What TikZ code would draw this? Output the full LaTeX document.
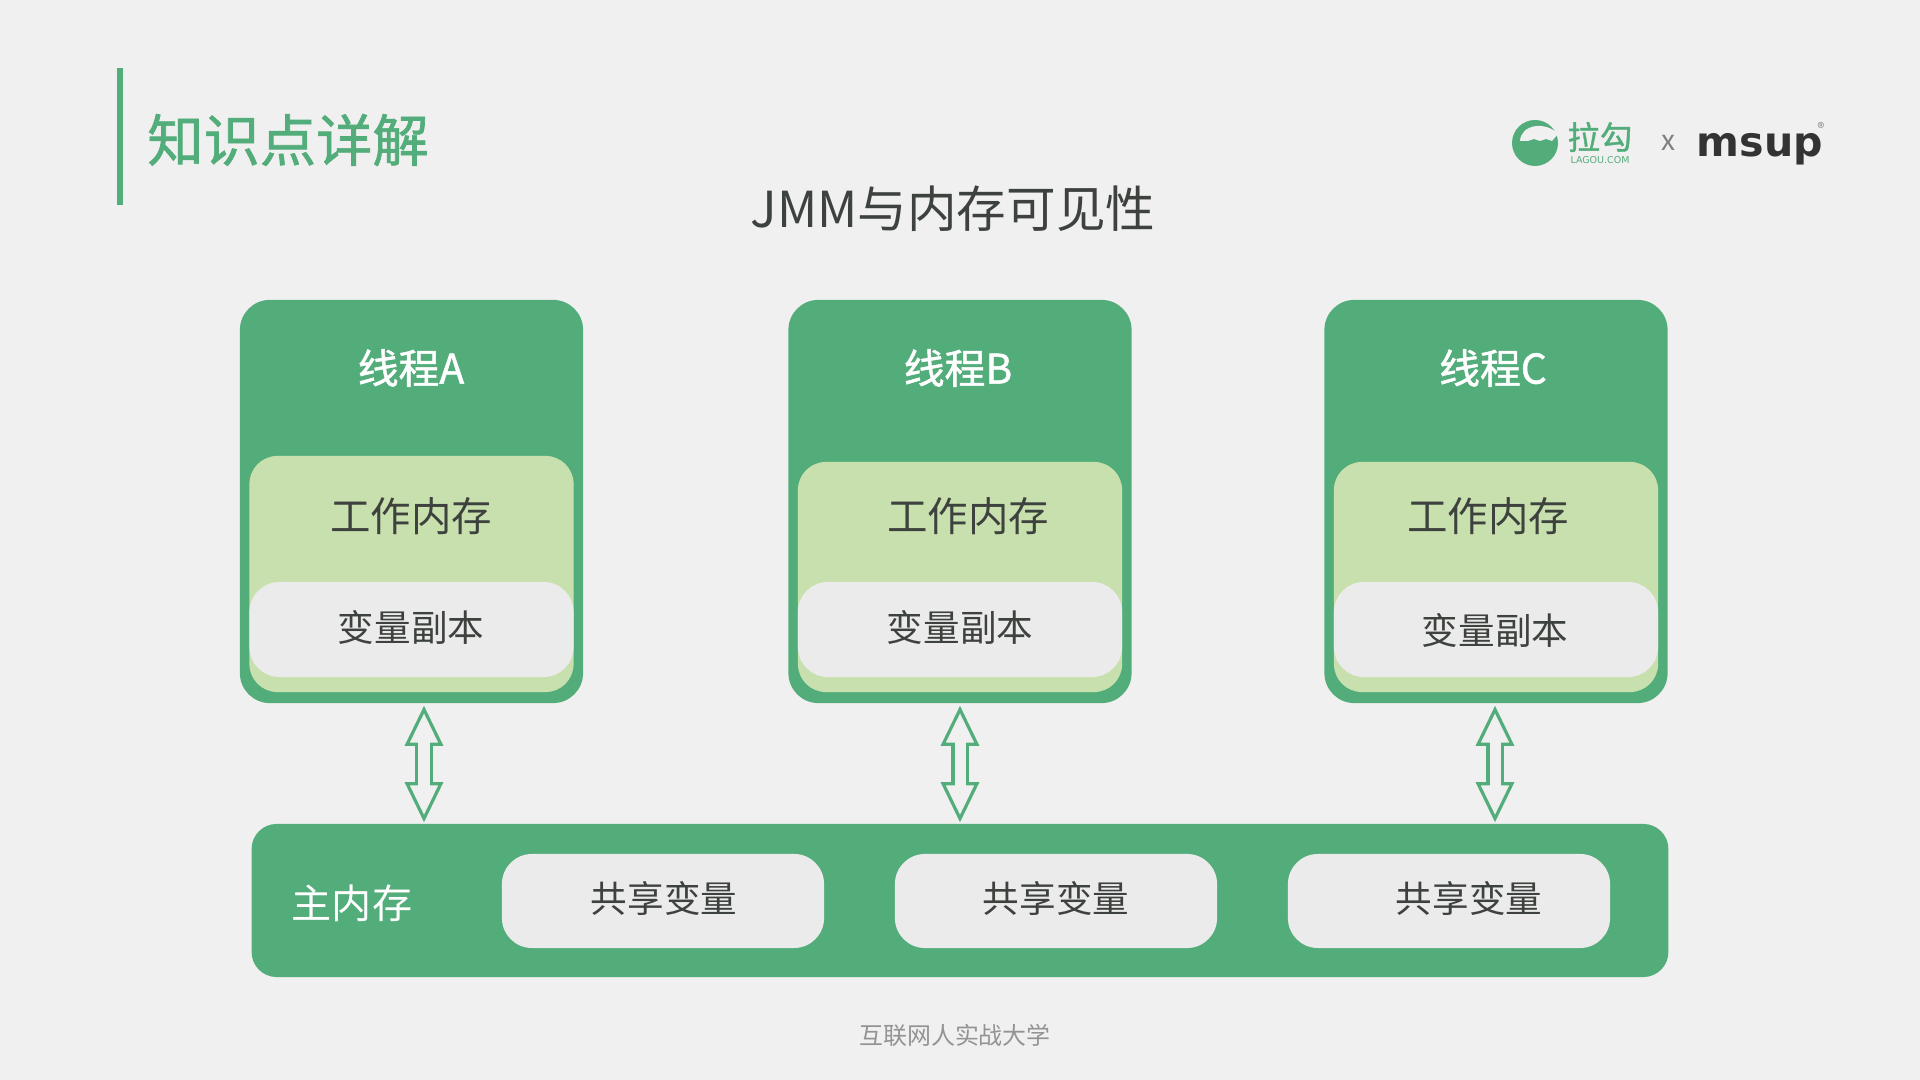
\documentclass[tikz,border=0pt]{standalone}
\usepackage{fontspec}
\setmainfont{Noto Sans CJK SC}
\newfontfamily\cjkmedium[FakeBold=1.2]{Noto Sans CJK SC}
\newfontfamily\latinbold{DejaVu Sans}
\usepackage{xcolor}
\usetikzlibrary{arrows.meta, positioning, calc}
\definecolor{pagegray}{RGB}{240, 240, 240}
\definecolor{lagougreen}{RGB}{83, 173, 122}
\definecolor{workgreen}{RGB}{200, 224, 174}
\definecolor{copygray}{RGB}{235, 235, 235}
\definecolor{inkgray}{RGB}{62, 66, 62}
\tikzset{
    threadbox/.style={draw=none, fill=lagougreen, rounded corners=0.3cm, inner sep=0pt,
        minimum width=3.43cm, minimum height=4.03cm},
    workbox/.style={fill=workgreen, rounded corners=0.28cm, inner sep=0pt,
        minimum width=3.24cm},
    copybox/.style={fill=copygray, rounded corners=0.3cm, inner sep=0pt,
        minimum width=3.24cm, minimum height=0.95cm},
    sharebox/.style={fill=copygray, rounded corners=0.3cm, inner sep=0pt,
        minimum width=3.22cm, minimum height=0.94cm},
    threadlabel/.style={white, font=\cjkmedium\fontsize{11.6pt}{14pt}\selectfont},
    worklabel/.style={inkgray, font=\fontsize{11.5pt}{14pt}\selectfont},
    copylabel/.style={inkgray, font=\fontsize{10.4pt}{12pt}\selectfont},
    syncarrow/.style={line width=0.032cm, draw=lagougreen, double=pagegray, double distance=0.11cm,
        {Triangle[open, fill=pagegray, length=0.40cm, width=0.38cm]}-{Triangle[open, fill=pagegray, length=0.40cm, width=0.38cm]},
        shorten <=0.02cm, shorten >=0.01cm},
    synccover/.style={draw=pagegray, line width=0.11cm, shorten <=0.38cm, shorten >=0.37cm}
}
\begin{document}
\begin{tikzpicture}[x=0.01cm, y=-0.01cm]
    % Page background
    \fill[pagegray] (0,0) rectangle (1920,1080);
    \useasboundingbox (0,0) rectangle (1920,1080);
    % Heading
    \fill[lagougreen] (117,68) rectangle (123,205);
    \node[lagougreen, font=\cjkmedium\fontsize{16pt}{18pt}\selectfont] (heading) at (288,140) {知识点详解};
    \node[inkgray, font=\fontsize{14.1pt}{16pt}\selectfont] (title) at (953,209) {JMM与内存可见性};
    % Logos
    \fill[lagougreen] (1535,143) circle (23);
    \fill[pagegray] (1520,141) .. controls (1521,124) and (1546,121) .. (1558,134)
        -- (1552,141) -- (1546,139) -- (1540,141) -- (1534,139) -- (1528,141) -- cycle;
    \node[lagougreen, font=\cjkmedium\fontsize{9.2pt}{11pt}\selectfont] (lagou) at (1600,137) {拉勾};
    \node[lagougreen, font=\latinbold\fontsize{2.7pt}{3pt}\selectfont] (lagoucom) at (1600,160) {LAGOU.COM};
    \node[gray, font=\fontsize{8pt}{8pt}\selectfont] (cross) at (1668,143) {x};
    \node[black!80, font=\latinbold\bfseries\fontsize{11.7pt}{14pt}\selectfont] (msup) at (1760,149) {msup};
    \node[gray, font=\fontsize{4pt}{4pt}\selectfont] (reg) at (1821,128) {®};
    % Threads
    \foreach \t/\cx/\wy/\wh/\lx/\wx/\cpx/\cpy in {
        A/411.5/574/2.36/411/411/411/627,
        B/960/577/2.30/958/968/960/627,
        C/1496/577/2.30/1493/1488/1495/630
    } {
        \node[threadbox] (thread\t) at (\cx,501.5) {};
        \node[workbox, minimum height=\wh cm] (work\t) at (\cx,\wy) {};
        \node[copybox] (copy\t) at (\cx,629.5) {};
        \node[threadlabel] (name\t) at (\lx,368) {线程\t};
        \node[worklabel] (worklabel\t) at (\wx,516) {工作内存};
        \node[copylabel] (copylabel\t) at (\cpx,\cpy) {变量副本};
    }
    % Main memory
    \node[fill=lagougreen, rounded corners=0.25cm, inner sep=0pt,
        minimum width=14.16cm, minimum height=1.53cm] (mainmem) at (960,900.5) {};
    \node[white, font=\fontsize{11.4pt}{14pt}\selectfont] (mainlabel) at (352,903) {主内存};
    \foreach \s/\sx/\tx in {one/663/664, two/1056/1056, three/1449/1469} {
        \node[sharebox] (share\s) at (\sx,901) {};
        \node[copylabel] (sharelabel\s) at (\tx,898) {共享变量};
    }
    % Arrows between threads and main memory
    \foreach \t/\shift in {A/12.5, B/0, C/-1} {
        \draw[syncarrow] ([xshift=\shift*0.01cm]thread\t.south) -- ([xshift=\shift*0.01cm]thread\t.south |- mainmem.north);
        \draw[synccover] ([xshift=\shift*0.01cm]thread\t.south) -- ([xshift=\shift*0.01cm]thread\t.south |- mainmem.north);
    }
    % Footer
    \node[gray!85, font=\fontsize{6.8pt}{8pt}\selectfont] (footer) at (955,1035) {互联网人实战大学};
\end{tikzpicture}
\end{document}
